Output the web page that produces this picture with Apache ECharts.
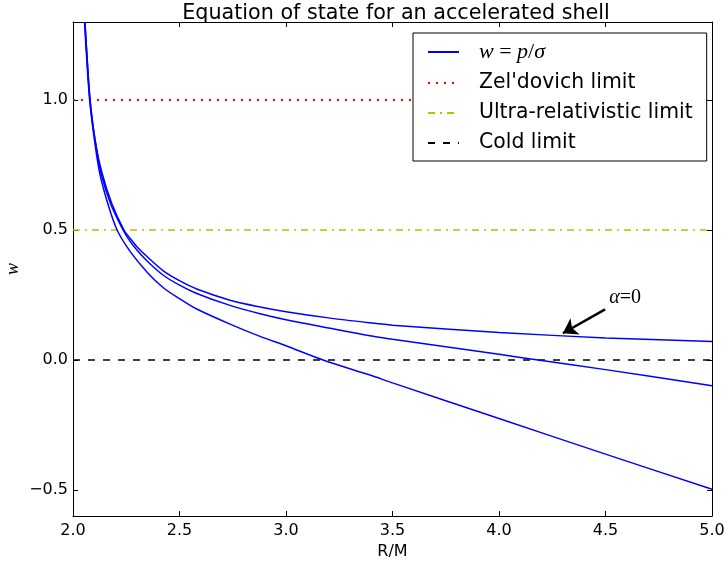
<!DOCTYPE html>
<html>
<head>
<meta charset="utf-8">
<script src="https://cdn.jsdelivr.net/npm/echarts@6/dist/echarts.min.js"></script>
<style>html,body{margin:0;padding:0;background:#fff;}#c{width:728px;height:565px;}</style>
</head>
<body>
<div id="c"></div>
<script>
// ---- data ----
var curveUpperX = [2.056, 2.064, 2.080, 2.103, 2.136, 2.183, 2.239, 2.268, 2.300, 2.350, 2.424, 2.500, 2.581, 2.737, 2.878, 3.000, 3.200, 3.394, 3.500, 4.000, 4.500, 5.000];
var curveUpperY = [1.30, 1.19, 1.00, 0.85, 0.72, 0.60, 0.50, 0.468, 0.436, 0.396, 0.343, 0.305, 0.273, 0.230, 0.204, 0.186, 0.162, 0.143, 0.134, 0.106, 0.085, 0.071];
var curveMiddleX = [2.056, 2.064, 2.080, 2.103, 2.131, 2.177, 2.235, 2.268, 2.300, 2.350, 2.424, 2.500, 2.581, 2.737, 2.878, 3.000, 3.200, 3.394, 3.500, 4.000, 4.200, 4.500, 5.000];
var curveMiddleY = [1.30, 1.19, 1.00, 0.85, 0.72, 0.60, 0.50, 0.456, 0.423, 0.379, 0.326, 0.288, 0.256, 0.210, 0.178, 0.155, 0.123, 0.093, 0.080, 0.022, -0.002, -0.037, -0.099];
var curveLowerX = [2.054, 2.062, 2.078, 2.100, 2.125, 2.164, 2.207, 2.268, 2.350, 2.424, 2.500, 2.581, 2.737, 2.878, 3.000, 3.174, 3.394, 3.500, 4.000, 4.500, 5.000];
var curveLowerY = [1.30, 1.19, 1.00, 0.85, 0.72, 0.60, 0.50, 0.418, 0.336, 0.278, 0.236, 0.196, 0.138, 0.091, 0.055, 0.0, -0.058, -0.088, -0.225, -0.362, -0.497];
var limitX = [2.0, 5.0];
var zeldovichY = [1.0, 1.0];
var ultraY = [0.5, 0.5];
var coldY = [0.0, 0.0];
var yTicks = [-0.5, 0.0, 0.5, 1.0];
var seriesNames = ['w', "Zel'dovich limit", 'Ultra-relativistic limit', 'Cold limit'];
var titleText = 'Equation of state for an accelerated shell';
var arrowTail = [4.498, 0.195];
var arrowTip = [4.30, 0.103];
var alphaLabelAt = [4.592, 0.238];

function pairs(xs, ys) { return xs.map(function (x, i) { return [x, ys[i]]; }); }
function fmt(v) { return v.toFixed(1).replace('-', '\u2212'); }

var SANS = 'DejaVu Sans';
var SERIF = 'Liberation Serif';
var mathRich = {
  i: { fontFamily: SERIF, fontStyle: 'italic', fontSize: 22, color: '#000' },
  r: { fontFamily: SERIF, fontSize: 22, color: '#000' }
};

var blueLine = { color: '#0000ff', width: 1.5 };

var chart = echarts.init(document.getElementById('c'), null, { renderer: 'canvas' });
chart.setOption({
  animation: false,
  backgroundColor: '#ffffff',
  title: {
    text: titleText, left: 391, textAlign: 'center', top: -2,
    textStyle: { fontFamily: SANS, fontSize: 20.7, fontWeight: 'normal', color: '#000' }
  },
  grid: { left: 73, right: 16, top: 22, bottom: 49, containLabel: false, outerBoundsMode: 'none' },
  legend: {
    left: 413, top: 33, orient: 'vertical',
    data: seriesNames,
    backgroundColor: '#fff', borderColor: '#000', borderWidth: 1, borderRadius: 0,
    padding: [8, 14, 8, 14], itemGap: 10, itemWidth: 31, itemHeight: 20,
    itemStyle: { opacity: 0 },
    textStyle: { fontFamily: SANS, fontSize: 20.4, color: '#000', padding: [0, 0, 0, 15], rich: mathRich },
    formatter: function (name) {
      if (name === 'w') return '{i|w}{r| = }{i|p}{r|/}{i|σ}';
      return name;
    }
  },
  xAxis: [{
    type: 'value', min: 2.0, max: 5.0, interval: 0.5, position: 'bottom',
    name: 'R/M', nameLocation: 'middle', nameGap: 24,
    nameTextStyle: { fontFamily: SANS, fontSize: 16, color: '#000' },
    axisLine: { show: true, onZero: false, lineStyle: { color: '#000', width: 1 } },
    axisTick: { show: true, inside: true, length: 5, lineStyle: { color: '#000' } },
    axisLabel: { fontFamily: SANS, fontSize: 16, color: '#000', margin: 7, formatter: fmt, showMinLabel: true, showMaxLabel: true },
    splitLine: { show: false }
  }, {
    type: 'value', min: 2.0, max: 5.0, interval: 0.5, position: 'top',
    axisLine: { show: true, onZero: false, lineStyle: { color: '#000', width: 1 } },
    axisTick: { show: true, inside: true, length: 5, lineStyle: { color: '#000' } },
    axisLabel: { show: false }, splitLine: { show: false }
  }],
  yAxis: [{
    type: 'value', min: -0.6, max: 1.3, position: 'left',
    name: 'w', nameLocation: 'middle', nameGap: 51, nameRotate: 90, nameMoveOverlap: false,
    nameTextStyle: { fontFamily: SERIF, fontStyle: 'italic', fontSize: 18, color: '#000' },
    axisLine: { show: true, onZero: false, lineStyle: { color: '#000', width: 1 } },
    axisTick: { show: true, inside: true, length: 5, customValues: yTicks, lineStyle: { color: '#000' } },
    axisLabel: { fontFamily: SANS, fontSize: 16, color: '#000', margin: 5, customValues: yTicks, formatter: fmt },
    splitLine: { show: false }
  }, {
    type: 'value', min: -0.6, max: 1.3, position: 'right',
    axisLine: { show: true, onZero: false, lineStyle: { color: '#000', width: 1 } },
    axisTick: { show: true, inside: true, length: 5, customValues: yTicks, lineStyle: { color: '#000' } },
    axisLabel: { show: false, customValues: yTicks }, splitLine: { show: false }
  }],
  series: [
    {
      name: seriesNames[0], type: 'line', data: pairs(curveUpperX, curveUpperY),
      smooth: 0.3, symbol: 'none', clip: true,
      lineStyle: blueLine, itemStyle: { color: '#0000ff' }, z: 5,
      markLine: {
        silent: true, symbol: ['none', 'arrow'], symbolSize: 14,
        lineStyle: { color: '#000', width: 2.5, type: 'solid' },
        label: { show: false },
        data: [[{ coord: arrowTail, symbol: 'none' }, { coord: arrowTip, symbol: 'arrow', symbolSize: 14 }]]
      },
      markPoint: {
        silent: true, symbol: 'circle', symbolSize: 1,
        itemStyle: { color: 'rgba(0,0,0,0)' },
        label: { show: true, position: 'inside', formatter: '{i|α}{r|=0}', rich: {
          i: { fontFamily: SERIF, fontStyle: 'italic', fontSize: 20, color: '#000' },
          r: { fontFamily: SERIF, fontSize: 20, color: '#000' } } },
        data: [{ coord: alphaLabelAt }]
      }
    },
    {
      name: seriesNames[0], type: 'line', data: pairs(curveMiddleX, curveMiddleY),
      smooth: 0.3, symbol: 'none', clip: true,
      lineStyle: blueLine, itemStyle: { color: '#0000ff' }, z: 5
    },
    {
      name: seriesNames[0], type: 'line', data: pairs(curveLowerX, curveLowerY),
      smooth: 0.3, symbol: 'none', clip: true,
      lineStyle: blueLine, itemStyle: { color: '#0000ff' }, z: 5
    },
    {
      name: seriesNames[1], type: 'line', data: pairs(limitX, zeldovichY), symbol: 'none',
      lineStyle: { color: '#ff0000', width: 2, type: [2, 6] }, itemStyle: { color: '#ff0000' }
    },
    {
      name: seriesNames[2], type: 'line', data: pairs(limitX, ultraY), symbol: 'none',
      lineStyle: { color: '#bfbf00', width: 1.5, type: [7, 5, 2, 5] }, itemStyle: { color: '#bfbf00' }
    },
    {
      name: seriesNames[3], type: 'line', data: pairs(limitX, coldY), symbol: 'none',
      lineStyle: { color: '#000', width: 1.5, type: [7, 8] }, itemStyle: { color: '#000' }
    }
  ]
});
</script>
</body>
</html>
